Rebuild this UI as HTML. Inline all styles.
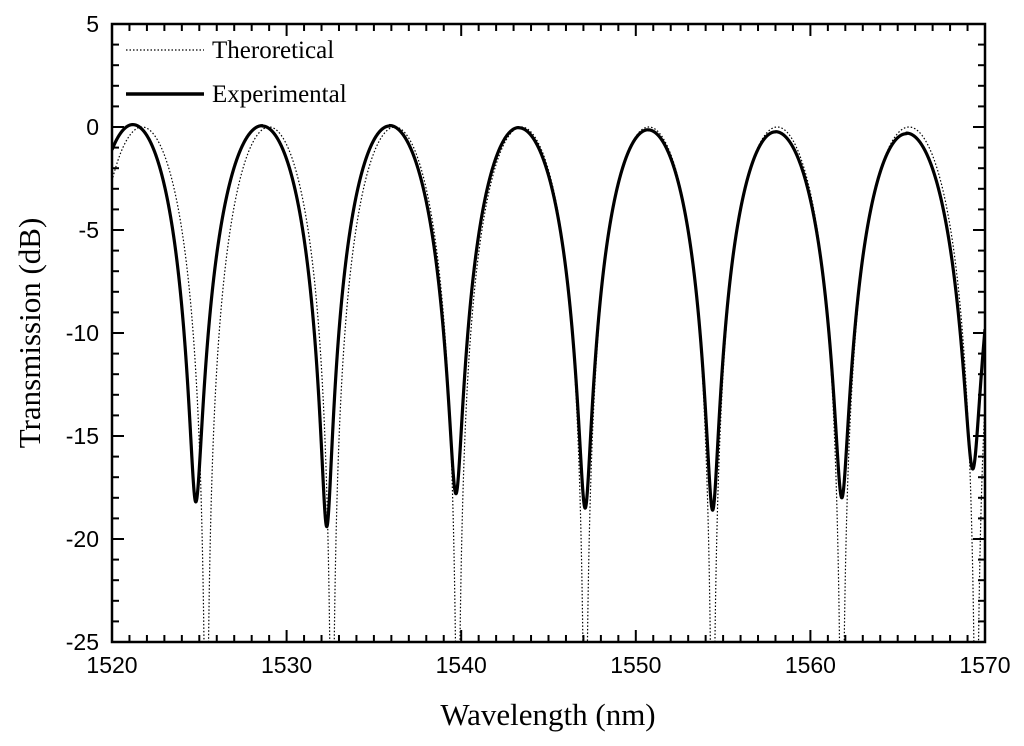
<!DOCTYPE html>
<html><head><meta charset="utf-8"><style>
html,body{margin:0;padding:0;background:#fff;width:1024px;height:746px;overflow:hidden;}
svg{display:block;}
.tk{font-family:"Liberation Sans",Arial,sans-serif;font-size:23px;fill:#000;}
.tt{font-family:"Liberation Serif","Times New Roman",serif;font-size:31px;fill:#000;}
.lg{font-family:"Liberation Serif","Times New Roman",serif;font-size:25px;fill:#000;}
</style></head><body>
<svg id="chart" width="1024" height="746" viewBox="0 0 1024 746">
<defs><clipPath id="pc"><rect x="112" y="24" width="873" height="618"/></clipPath></defs>
<g id="marks" clip-path="url(#pc)"></g>
<g id="axes"></g>
<g>
<line x1="126" y1="50" x2="204" y2="50" stroke="#000" stroke-width="1.2" stroke-dasharray="1.5,2"/>
<text class="lg" x="212" y="58">Theroretical</text>
<line x1="126" y1="94" x2="204" y2="94" stroke="#000" stroke-width="3.5"/>
<text class="lg" x="212" y="102">Experimental</text>
</g>
<text class="tt" x="548" y="725" text-anchor="middle">Wavelength (nm)</text>
<text class="tt" x="0" y="0" text-anchor="middle" transform="translate(40,333) rotate(-90)">Transmission (dB)</text>
</svg>
<script>
// data
const xTicks = [1520,1530,1540,1550,1560,1570];
const yTicks = [5,0,-5,-10,-15,-20,-25];
const theoryNulls = [1518.05,1525.4,1532.6,1539.8,1547.1,1554.4,1561.8,1569.5,1576.8];
const expDips = [1517.6,1524.8,1532.3,1539.7,1547.1,1554.4,1561.8,1569.3];
const expDipDepth = [-18,-18.2,-19.4,-17.8,-18.5,-18.6,-18.0,-16.6];
const expPeaks = [1521.2,1528.6,1535.9,1543.3,1550.7,1558.0,1565.5,1572.9];
const expPeakVal = [0.05,0,0,-0.1,-0.2,-0.3,-0.4,-0.4];

const X0=112,X1=985,Y0=24,Y1=642;
const xs = v => X0+(v-1520)/(1570-1520)*(X1-X0);
const ys = v => Y0+(5-v)/30*(Y1-Y0);
const NS='http://www.w3.org/2000/svg';
const axes=document.getElementById('axes'), marks=document.getElementById('marks');
function mk(tag,attrs,parent){const e=document.createElementNS(NS,tag);for(const k in attrs)e.setAttribute(k,attrs[k]);parent.appendChild(e);return e;}

function theory(l){
  for(let i=0;i<theoryNulls.length-1;i++){
    const a=theoryNulls[i],b=theoryNulls[i+1];
    if(l>=a&&l<=b){const s=Math.sin(Math.PI*(l-a)/(b-a));return Math.max(-26,10*Math.log10(s*s+1e-12));}
  }
  return -26;
}
let dT='';
for(let l=1520;l<=1570.0001;l+=0.005){dT+=(dT?'L':'M')+xs(l).toFixed(2)+','+ys(theory(l)).toFixed(2);}
const pT=mk('path',{d:dT,fill:'none',stroke:'#000','stroke-width':1.2,'stroke-dasharray':'1.5,2'},marks);



function exper(l){
  for(let i=0;i<expPeaks.length;i++){
    const p=expPeaks[i],a=expDips[i],b=expDips[i+1]!==undefined?expDips[i+1]:p+3.6;
    if(l>=a&&l<=b){
      let ph,depth;
      if(l<=p){ph=(p-l)/(p-a)*Math.PI/2;depth=expDipDepth[i];}
      else{ph=(l-p)/(b-p)*Math.PI/2;depth=expDipDepth[i+1]!==undefined?expDipDepth[i+1]:-16;}
      const c=Math.cos(ph);
      const eps=Math.pow(10,(depth-expPeakVal[i])/10);
      return expPeakVal[i]+10*Math.log10(c*c+eps);
    }
  }
  return 0;
}
let dE='';
for(let l=1520;l<=1570.0001;l+=0.01){dE+=(dE?'L':'M')+xs(l).toFixed(2)+','+ys(exper(l)).toFixed(2);}
const pE=mk('path',{d:dE,fill:'none',stroke:'#000','stroke-width':3.2,'stroke-linejoin':'round'},marks);



const fr=mk('rect',{x:X0,y:Y0,width:X1-X0,height:Y1-Y0,fill:'none',stroke:'#000','stroke-width':2.5},axes);


for(let v=1520;v<=1570;v++){
  const maj=(v%10===0), len=maj?12:7, x=xs(v);
  mk('line',{x1:x,y1:Y1,x2:x,y2:Y1-len,stroke:'#000','stroke-width':2},axes);
  mk('line',{x1:x,y1:Y0,x2:x,y2:Y0+len,stroke:'#000','stroke-width':2},axes);
}
for(const v of xTicks){
  const t=mk('text',{class:'tk',x:xs(v),y:Y1+31,'text-anchor':'middle'},axes);t.textContent=v;
  
  
}
for(let v=-25;v<=5;v++){
  const maj=(v%5===0), len=maj?12:7, y=ys(v);
  mk('line',{x1:X0,y1:y,x2:X0+len,y2:y,stroke:'#000','stroke-width':2},axes);
  mk('line',{x1:X1,y1:y,x2:X1-len,y2:y,stroke:'#000','stroke-width':2},axes);
}
for(const v of yTicks){
  const t=mk('text',{class:'tk',x:X0-13,y:ys(v)+8,'text-anchor':'end'},axes);t.textContent=v;
  
  
}
</script>
</body></html>
